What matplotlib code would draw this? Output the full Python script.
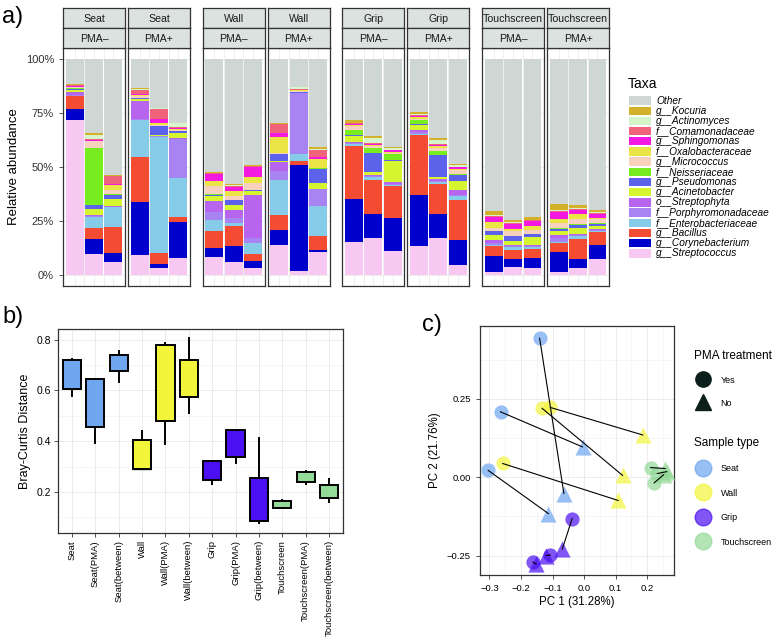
import matplotlib
matplotlib.use("Agg")
import matplotlib.pyplot as plt
from matplotlib.patches import Rectangle
from matplotlib.lines import Line2D
import numpy as np

plt.rcParams["font.family"] = ["Liberation Sans", "DejaVu Sans"]

# ---------------- panel a data (percent, bars in facet order) ----------------
SAMPLE_TYPES = ["Seat", "Wall", "Grip", "Touchscreen"]
PMA_LABELS = ["PMA–", "PMA+"]

streptococcus = [71.6, 9.9, 6.0, 9.4, 3.2, 8.0, 8.6, 6.3, 3.5, 14.0, 2.0, 10.6,
                 15.3, 17.1, 11.3, 13.3, 17.4, 4.5, 1.7, 3.9, 3.5, 1.4, 3.2, 7.6]
corynebacterium = [5.2, 6.6, 4.3, 24.4, 1.9, 16.8, 4.0, 7.3, 3.1, 6.9, 48.8, 1.1,
                   20.1, 11.4, 15.1, 23.9, 11.1, 11.9, 7.3, 3.4, 4.3, 9.1, 4.3, 6.5]
bacillus = [5.9, 5.4, 12.0, 20.7, 5.1, 2.2, 7.9, 9.1, 3.2, 6.9, 1.9, 6.5,
            24.2, 15.6, 15.0, 27.8, 13.6, 18.4, 4.6, 4.5, 4.2, 4.3, 9.3, 5.9]
enterobacteriaceae = [0.0, 5.2, 9.0, 17.0, 53.7, 17.9, 4.8, 1.4, 5.2, 16.2, 3.4, 13.6,
                      1.1, 1.1, 0.3, 0.3, 0.9, 1.7, 0.5, 1.1, 0.8, 0.5, 1.4, 0.6]
porphyromonadaceae = [0.8, 0.3, 0.3, 0.5, 0.2, 18.1, 4.0, 2.5, 2.0, 4.2, 27.9, 8.2,
                      0.4, 0.6, 0.6, 0.9, 0.7, 0.5, 1.0, 0.6, 0.6, 1.7, 0.4, 0.4]
streptophyta = [1.2, 0.3, 0.3, 8.5, 0.2, 0.3, 4.8, 3.4, 20.1, 4.3, 0.0, 0.0,
                0.5, 0.6, 0.6, 1.0, 0.8, 2.6, 1.3, 0.6, 0.6, 1.7, 0.5, 0.4]
acinetobacter = [1.0, 2.8, 3.5, 1.0, 0.3, 2.3, 2.6, 2.3, 1.9, 0.2, 0.3, 2.6,
                 2.6, 1.2, 10.0, 2.0, 1.1, 3.9, 2.3, 1.9, 3.7, 1.9, 2.6, 1.2]
pseudomonas = [0.2, 1.9, 1.7, 0.3, 4.2, 0.9, 0.5, 2.3, 0.3, 3.4, 0.2, 6.6,
               0.8, 9.1, 0.5, 0.8, 10.0, 2.8, 1.5, 2.0, 1.2, 0.9, 1.5, 1.1]
neisseriaceae = [0.4, 26.5, 0.2, 0.3, 0.0, 0.2, 0.5, 0.3, 0.3, 0.0, 0.2, 0.3,
                 1.9, 2.0, 2.5, 1.9, 2.0, 0.5, 0.3, 0.3, 0.3, 0.3, 0.3, 0.3]
micrococcus = [0.5, 3.1, 2.3, 0.5, 0.5, 0.3, 3.4, 1.9, 2.8, 0.2, 0.2, 0.2,
               2.0, 1.1, 0.5, 0.5, 1.4, 2.0, 1.5, 2.3, 1.5, 2.3, 2.3, 2.0]
oxalobacteraceae = [0.4, 0.2, 2.3, 0.7, 1.0, 0.5, 2.3, 2.0, 3.1, 7.4, 0.6, 4.2,
                    0.5, 0.5, 0.5, 0.5, 0.5, 0.5, 2.5, 0.8, 2.0, 2.0, 2.5, 0.5]
sphingomonas = [0.2, 0.2, 0.4, 0.5, 1.9, 0.6, 3.2, 2.0, 4.5, 1.9, 0.2, 0.5,
                0.3, 0.5, 0.8, 0.5, 0.6, 0.6, 2.3, 2.3, 2.2, 3.1, 1.9, 1.9]
comamonadaceae = [0.5, 0.5, 3.4, 2.0, 4.8, 0.3, 0.5, 0.5, 0.3, 4.3, 0.3, 3.4,
                  0.5, 0.3, 0.3, 0.8, 0.3, 0.3, 0.5, 0.5, 0.5, 0.5, 0.5, 0.3]
actinomyces = [0.2, 1.8, 0.2, 0.3, 0.2, 1.9, 0.2, 0.5, 0.2, 0.2, 1.0, 0.3,
               0.3, 2.3, 0.6, 0.3, 2.0, 0.9, 0.3, 0.3, 0.3, 0.3, 0.3, 0.3]
kocuria = [0.3, 1.0, 0.4, 0.5, 0.3, 0.2, 0.5, 0.3, 0.3, 0.2, 0.2, 1.0,
           1.2, 0.8, 0.8, 1.1, 0.8, 0.5, 2.0, 1.1, 1.1, 3.1, 1.5, 1.2]

# bottom -> top stacking order
taxa_names = ["g__Streptococcus", "g__Corynebacterium", "g__Bacillus",
              "f__Enterobacteriaceae", "f__Porphyromonadaceae", "o__Streptophyta",
              "g__Acinetobacter", "g__Pseudomonas", "f__Neisseriaceae",
              "g__Micrococcus", "f__Oxalobacteraceae", "g__Sphingomonas",
              "f__Comamonadaceae", "g__Actinomyces", "g__Kocuria", "Other"]
taxa_colors = ["#F7C8F1", "#0000CC", "#F44B33", "#86CBE8", "#A884F2", "#B764EE",
               "#D5F52E", "#5C62EA", "#77EC1F", "#F7D0BE", "#EBE445", "#F419E0",
               "#F0647B", "#D6F5CA", "#D4B12B", "#CFD7D4"]

taxa_values = np.array([streptococcus, corynebacterium, bacillus, enterobacteriaceae,
                        porphyromonadaceae, streptophyta, acinetobacter, pseudomonas,
                        neisseriaceae, micrococcus, oxalobacteraceae, sphingomonas,
                        comamonadaceae, actinomyces, kocuria])
other = 100 - taxa_values.sum(axis=0)
taxa_values = np.vstack([taxa_values, other])

# ---------------- panel b data ----------------
bc_groups = ["Seat", "Seat(PMA)", "Seat(between)", "Wall", "Wall(PMA)", "Wall(between)",
             "Grip", "Grip(PMA)", "Grip(between)", "Touchscreen", "Touchscreen(PMA)",
             "Touchscreen(between)"]
bc_whislo = [0.577, 0.394, 0.632, 0.290, 0.388, 0.512, 0.232, 0.313, 0.078, 0.137, 0.233, 0.159]
bc_q1 = [0.606, 0.454, 0.677, 0.290, 0.480, 0.575, 0.249, 0.339, 0.087, 0.137, 0.241, 0.178]
bc_med = [0.688, 0.632, 0.724, 0.294, 0.760, 0.641, 0.296, 0.429, 0.102, 0.153, 0.266, 0.198]
bc_q3 = [0.718, 0.643, 0.740, 0.403, 0.779, 0.720, 0.320, 0.442, 0.255, 0.164, 0.278, 0.226]
bc_whishi = [0.724, 0.643, 0.756, 0.439, 0.787, 0.805, 0.323, 0.444, 0.411, 0.169, 0.281, 0.253]

type_colors = {"Seat": "#6EA6F0", "Wall": "#F2F53A", "Grip": "#4B10F2", "Touchscreen": "#93D997"}

# ---------------- panel c data ----------------
pc_type = ["Seat", "Seat", "Seat", "Wall", "Wall", "Wall",
           "Grip", "Grip", "Grip", "Touchscreen", "Touchscreen", "Touchscreen"]
pc1_yes = [-0.141, -0.265, -0.304, -0.107, -0.133, -0.258,
           -0.038, -0.107, -0.162, 0.211, 0.222, 0.232]
pc2_yes = [0.444, 0.209, 0.022, 0.223, 0.220, 0.044,
           -0.132, -0.248, -0.271, 0.031, -0.018, 0.012]
pc1_no = [-0.064, -0.005, -0.113, 0.186, 0.122, 0.108,
          -0.069, -0.120, -0.152, 0.257, 0.252, 0.262]
pc2_no = [-0.052, 0.097, -0.116, 0.135, 0.006, -0.074,
          -0.229, -0.250, -0.277, 0.028, 0.008, 0.018]

W, H = 778, 637
fig = plt.figure(figsize=(W / 100, H / 100), dpi=100)


def fax(x0, y0, x1, y1):
    # pixel box (top-left origin) -> figure axes
    return fig.add_axes([x0 / W, 1 - y1 / H, (x1 - x0) / W, (y1 - y0) / H])


# ================= panel a =================
panel_w, inner_gap, stride, left0 = 62, 3, 139.7, 63
bar = 0
first = True
for gi, stype in enumerate(SAMPLE_TYPES):
    for pi, pma in enumerate(PMA_LABELS):
        x0 = left0 + gi * stride + pi * (panel_w + inner_gap)
        ax = fax(x0, 48, x0 + panel_w, 286)
        xs = np.arange(1, 4)
        vals = taxa_values[:, bar:bar + 3]
        bottom = np.zeros(3)
        for t in range(len(taxa_names)):
            ax.bar(xs, vals[t], bottom=bottom, width=0.92, color=taxa_colors[t],
                   linewidth=0, zorder=2)
            bottom += vals[t]
        bar += 3
        ax.set_xlim(0.4, 3.6)
        ax.set_ylim(-5, 105)
        ax.set_xticks(xs)
        ax.set_xticks([1.5, 2.5], minor=True)
        ax.grid(True, which="both", axis="x", color="#EBEBEB", lw=0.6, zorder=0)
        ax.set_yticks([0, 25, 50, 75, 100])
        ax.grid(True, axis="y", color="#EBEBEB", lw=0.6, zorder=0)
        ax.tick_params(axis="x", which="both", length=0, labelbottom=False)
        if first:
            ax.set_yticklabels(["0%", "25%", "50%", "75%", "100%"], fontsize=8, color="#333333")
            ax.tick_params(axis="y", length=3, color="#333333", width=0.6)
            ax.set_ylabel("Relative abundance", fontsize=9.5)
            first = False
        else:
            ax.tick_params(axis="y", length=0, labelleft=False)
        for sp in ax.spines.values():
            sp.set_color("#333333")
            sp.set_linewidth(0.9)
        # strips
        for (ya, yb), txt in [((8, 28), stype), ((28, 48), pma)]:
            sax = fax(x0, ya, x0 + panel_w, yb)
            sax.set_facecolor("#DBE2E0")
            sax.set_xticks([])
            sax.set_yticks([])
            for sp in sax.spines.values():
                sp.set_color("#333333")
                sp.set_linewidth(0.9)
            sax.text(0.5, 0.45, txt, ha="center", va="center", fontsize=7.6,
                     color="#1A1A1A", transform=sax.transAxes)

# Taxa legend (top entry = Other)
lax = fax(620, 70, 778, 265)
lax.set_xlim(620, 778)
lax.set_ylim(265, 70)
lax.axis("off")
lax.text(628, 84, "Taxa", fontsize=10, va="center", ha="left")
for i, t in enumerate(range(len(taxa_names) - 1, -1, -1)):
    yc = 100.5 + i * 10.2
    lax.add_patch(Rectangle((629, yc - 4.2), 22, 8.4, color=taxa_colors[t], lw=0))
    lax.text(656, yc, taxa_names[t], fontsize=7.3, style="italic", va="center", ha="left")

fig.text(2 / W, 1 - 17 / H, "a)", fontsize=17, va="center", ha="left")

# ================= panel b =================
axb = fax(58, 329, 343, 533)
stats = []
for i, g in enumerate(bc_groups):
    stats.append(dict(label=g, whislo=bc_whislo[i], q1=bc_q1[i], med=bc_med[i],
                      q3=bc_q3[i], whishi=bc_whishi[i], fliers=[]))
bp = axb.bxp(stats, positions=np.arange(1, 13), widths=0.78, patch_artist=True,
             showcaps=False,
             boxprops=dict(edgecolor="black", linewidth=1.4),
             medianprops=dict(color="black", linewidth=2.4),
             whiskerprops=dict(color="black", linewidth=1.4))
for patch, g in zip(bp["boxes"], bc_groups):
    patch.set_facecolor(type_colors[g.split("(")[0]])
    patch.set_zorder(3)
axb.set_xlim(0.4, 12.6)
axb.set_ylim(0.0385, 0.8415)
axb.set_yticks([0.2, 0.4, 0.6, 0.8])
axb.set_yticks([0.1, 0.3, 0.5, 0.7], minor=True)
axb.set_xticks(np.arange(1, 13))
axb.set_xticklabels(bc_groups, rotation=90, fontsize=6.8)
axb.tick_params(axis="y", which="major", labelsize=7.5)
axb.tick_params(axis="both", which="major", length=3, width=0.6, color="#333333", pad=2)
axb.tick_params(axis="y", which="minor", length=0)
axb.grid(True, which="major", color="#EBEBEB", lw=0.7, zorder=0)
axb.grid(True, which="minor", axis="y", color="#F3F3F3", lw=0.5, zorder=0)
axb.set_axisbelow(True)
axb.set_ylabel("Bray-Curtis Distance", fontsize=9)
for sp in axb.spines.values():
    sp.set_color("#333333")
    sp.set_linewidth(0.9)
fig.text(2 / W, 1 - 317 / H, "b)", fontsize=17, va="center", ha="left")

# ================= panel c =================
axc = fax(480, 326, 674, 575)
for stype in SAMPLE_TYPES:
    idx = [i for i, s in enumerate(pc_type) if s == stype]
    axc.scatter([pc1_yes[i] for i in idx], [pc2_yes[i] for i in idx], s=105, marker="o",
                color=type_colors[stype], alpha=0.7, linewidths=0, zorder=3)
    axc.scatter([pc1_no[i] for i in idx], [pc2_no[i] for i in idx], s=135, marker="^",
                color=type_colors[stype], alpha=0.7, linewidths=0, zorder=3)
for i in range(len(pc_type)):
    axc.plot([pc1_yes[i], pc1_no[i]], [pc2_yes[i], pc2_no[i]], color="black", lw=0.8, zorder=4)
axc.set_xlim(-0.330, 0.285)
axc.set_ylim(-0.312, 0.483)
axc.set_xticks([-0.3, -0.2, -0.1, 0.0, 0.1, 0.2])
axc.set_xticklabels(["−0.3", "−0.2", "−0.1", "0.0", "0.1", "0.2"])
axc.set_xticks([-0.25, -0.15, -0.05, 0.05, 0.15, 0.25], minor=True)
axc.set_yticks([-0.25, 0.0, 0.25])
axc.set_yticklabels(["−0.25", "0.00", "0.25"])
axc.set_yticks([-0.125, 0.125, 0.375], minor=True)
axc.tick_params(axis="both", which="major", labelsize=6.8, length=3, width=0.6, color="#333333")
axc.tick_params(axis="both", which="minor", length=0)
axc.grid(True, which="major", color="#EBEBEB", lw=0.7, zorder=0)
axc.grid(True, which="minor", color="#F3F3F3", lw=0.5, zorder=0)
axc.set_axisbelow(True)
axc.set_xlabel("PC 1 (31.28%)", fontsize=8.3, labelpad=2)
axc.set_ylabel("PC 2 (21.76%)", fontsize=8.3)
for sp in axc.spines.values():
    sp.set_color("#333333")
    sp.set_linewidth(0.9)

shape_handles = [Line2D([], [], marker="o", ls="", color="#0D1F1A", markersize=11),
                 Line2D([], [], marker="^", ls="", color="#0D1F1A", markersize=12)]
leg1 = fig.legend(shape_handles, ["Yes", "No"], title="PMA treatment", loc="upper left",
                  bbox_to_anchor=(689 / W, 1 - 345 / H), frameon=False, fontsize=6.5,
                  title_fontsize=8.5, labelspacing=1.55, handletextpad=1.0,
                  alignment="left", borderpad=0)
type_handles = [Line2D([], [], marker="o", ls="", color=type_colors[s], alpha=0.7,
                       markersize=12) for s in SAMPLE_TYPES]
leg2 = fig.legend(type_handles, SAMPLE_TYPES, title="Sample type", loc="upper left",
                  bbox_to_anchor=(689 / W, 1 - 432 / H), frameon=False, fontsize=6.5,
                  title_fontsize=8.5, labelspacing=1.72, handletextpad=1.0,
                  alignment="left", borderpad=0)
fig.text(422 / W, 1 - 325 / H, "c)", fontsize=17, va="center", ha="left")

fig.savefig("out.png", dpi=100)
